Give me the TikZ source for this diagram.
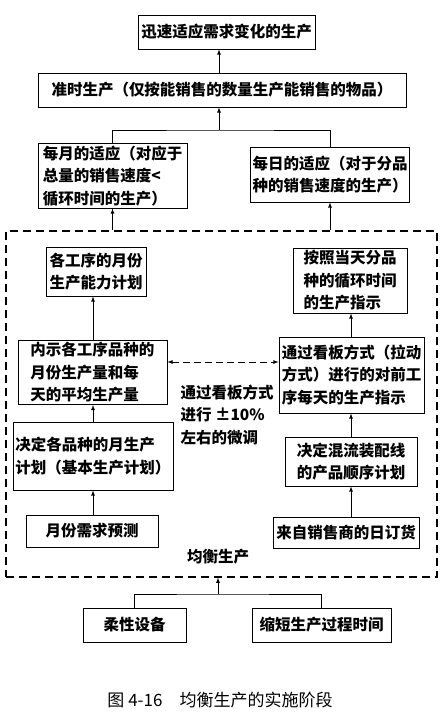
\documentclass[tikz,border=0pt]{standalone}
\usepackage{fontspec}
\setmainfont{Noto Sans CJK SC}
\usepackage{tikz}

\begin{document}
\begin{tikzpicture}[x=1pt, y=-1pt,
        box/.style={draw, thick, inner sep=2pt, align=left, font=\fontsize{15.5}{22.5}\selectfont\bfseries},
        txt/.style={inner sep=1pt, align=left, font=\fontsize{15.5}{22.5}\selectfont\bfseries}]
        \useasboundingbox (0,0) rectangle (447,726);
        % Define nodes
        \node[box, minimum width=177, minimum height=34] (fast) at (226.5,32) {迅速适应需求变化的生产};
        \node[box, minimum width=368, minimum height=34] (jit) at (222,90) {准时生产（仅按能销售的数量生产能销售的物品）};
        \node[box, minimum width=149, minimum height=64] (month) at (112.5,176) {每月的适应（对应于\\总量的销售速度<\\循环时间的生产）};
        \node[box, minimum width=158, minimum height=55] (day) at (330,174.5) {每日的适应（对于分品\\种的销售速度的生产）};

        \node[draw, line width=1.1pt, dash pattern=on 8pt off 5pt, minimum width=431, minimum height=346] (lev) at (221.5,404) {};

        \node[box, minimum width=100, minimum height=49] (cap) at (96,271.5) {各工序的月份\\生产能力计划};
        \node[box, minimum width=149, minimum height=59] (avg) at (92.5,372.5) {内示各工序品种的\\月份生产量和每\\天的平均生产量};
        \node[box, minimum width=160, minimum height=68] (plan) at (93,456) {决定各品种的月生产\\计划（基本生产计划）};
        \node[box, minimum width=132, minimum height=32] (fore) at (92,531) {月份需求预测};

        \node[box, minimum width=114, minimum height=65] (inst) at (350,280.5) {按照当天分品\\种的循环时间\\的生产指示};
        \node[box, minimum width=145, minimum height=76] (kan) at (351.5,375) {通过看板方式（拉动\\方式）进行的对前工\\序每天的生产指示};
        \node[box, minimum width=132, minimum height=49] (seq) at (351,461.5) {决定混流装配线\\的产品顺序计划};
        \node[box, minimum width=146, minimum height=31] (ord) at (346,532.5) {来自销售商的日订货};

        \node[txt] (adj) at (227,415) {通过看板方式\\进行 ±10\%\\左右的微调};
        \node[txt] (lvl) at (218,557) {均衡生产};

        \node[box, minimum width=103, minimum height=34] (flex) at (134.5,625) {柔性设备};
        \node[box, minimum width=139, minimum height=34] (short) at (321.5,625) {缩短生产过程时间};

        \node[txt, font=\fontsize{17}{20}\selectfont] (title) at (220,700) {图 4-16\quad 均衡生产的实施阶段};

        % Draw edges
        \coordinate (jt) at (219,130);
        \coordinate (jb) at (218,594);
        \draw[thick, -latex] (jit.north -| jt) -- (fast.south -| jt);
        \draw[thick] (month.north) |- (jt) -| (day.north);
        \draw[thick, -latex] (jt) -- (jt |- jit.south);
        \draw[thick, -latex] (lev.north -| month) -- (month.south);
        \draw[thick, -latex] (lev.north -| day) -- (day.south);

        \foreach \a/\b/\x in {fore/plan/93, plan/avg/93, avg/cap/93, ord/seq/351, seq/kan/351, kan/inst/351}
            \draw[thick, -latex] (\x,0 |- \a.north) -- (\x,0 |- \b.south);

        \draw[thick, latex-latex, dash pattern=on 7pt off 4pt] (avg.east |- 0,362) -- (kan.west |- 0,362);

        \draw[thick] (flex.north) |- (jb) -| (short.north);
        \draw[thick, -latex] (jb) -- (jb |- lev.south);
    \end{tikzpicture}
\end{document}
